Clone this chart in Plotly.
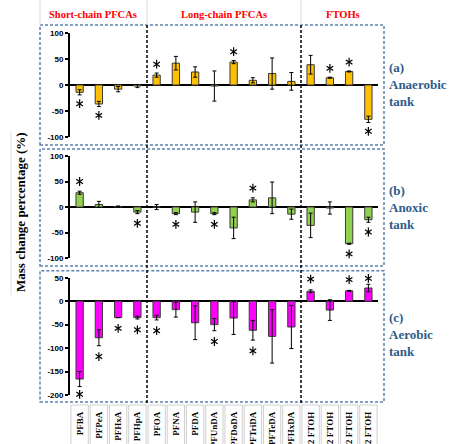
import plotly.graph_objects as go

categories = ["PFBA", "PFPeA", "PFHxA", "PFHpA", "PFOA", "PFNA", "PFDA", "PFUnDA",
              "PFDoDA", "PFTriDA", "PFTeDA", "PFHxDA",
              "4:2 FTOH", "6:2 FTOH", "8:2 FTOH", "10:2 FTOH"]

anaerobic = [-14, -36.5, -8, -2, 19, 42, 25, -2, 44, 9, 22, 7, 39, 14, 26, -66]
anaerobic_err = [5, 5, 5, 3, 4, 13, 10, 29, 3, 5, 30, 17, 18, 1, 1, 6]
anaerobic_sig = [1, 1, 0, 0, 1, 0, 0, 0, 1, 0, 0, 0, 0, 1, 1, 1]

anoxic = [28, 5, 1, -10, 0, -13, -10, -13, -41, 14, 18, -14, -36, -2, -72, -25]
anoxic_err = [3, 6, 1, 3, 5, 2, 20, 2, 21, 4, 31, 10, 24, 12, 1, 5]
anoxic_sig = [1, 0, 0, 1, 0, 1, 0, 1, 0, 1, 0, 0, 0, 0, 1, 1]

aerobic = [-166, -78, -35, -35, -35, -18, -46, -50, -36, -62, -75, -55, 21, -19, 22, 28]
aerobic_err = [16, 17, 0, 3, 5, 16, 36, 13, 35, 21, 57, 46, 3, 22, 1, 8]
aerobic_sig = [1, 1, 1, 1, 1, 0, 0, 1, 0, 1, 0, 0, 1, 0, 1, 1]

group_titles = ["Short-chain PFCAs", "Long-chain PFCAs", "FTOHs"]
panel_labels = ["(a)<br>Anaerobic<br>tank", "(b)<br>Anoxic<br>tank", "(c)<br>Aerobic<br>tank"]
y_title = "Mass change percentage (%)"

ticks_ab = [-100, -50, 0, 50, 100]
ticks_c = [-200, -150, -100, -50, 0, 50]

panels = [
    (anaerobic, anaerobic_err, anaerobic_sig, "#FFC000", ticks_ab, 17),
    (anoxic, anoxic_err, anoxic_sig, "#92D050", ticks_ab, 19),
    (aerobic, aerobic_err, aerobic_sig, "#FF00FF", ticks_c, 23),
]

# plot area: x 70..378 px, y 0..395 px
W, H = 451, 444
L, R, T, B = 70, 73, 0, 49
PW, PH = W - L - R, H - T - B


def px(xp):
    return (xp - L) / PW


def py(yp):
    return (PH - yp) / PH


domains = [[py(137), py(33)], [py(258), py(156)], [py(395), py(277.7)]]

fig = go.Figure()
serif = "Liberation Serif"
sans = "Liberation Sans"

for k, (vals, errs, sig, color, ticks, pad) in enumerate(panels):
    xa = "x" if k == 0 else f"x{k+1}"
    ya = "y" if k == 0 else f"y{k+1}"
    lo, hi = ticks[0], ticks[-1]
    fig.add_trace(go.Bar(
        x=categories, y=vals, xaxis=xa, yaxis=ya, width=0.38,
        marker=dict(color=color, line=dict(color="#3a3a3a", width=1)),
        error_y=dict(type="data", array=errs, color="black", thickness=1, width=2),
        showlegend=False,
    ))
    sx, sy = [], []
    for c, v, e, s in zip(categories, vals, errs, sig):
        if s:
            sign = 1 if v >= 0 else -1
            sx.append(c)
            sy.append(min(max(v + sign * (e + pad), lo + 1.5), hi - 1.5))
    for sym in ["y-up-open", "y-down-open"]:
        fig.add_trace(go.Scatter(
            x=sx, y=sy, xaxis=xa, yaxis=ya, mode="markers",
            marker=dict(symbol=sym, size=5.5, color="black",
                        line=dict(color="black", width=1.2)),
            cliponaxis=False, showlegend=False, hoverinfo="skip",
        ))
    axkey = "xaxis" if k == 0 else f"xaxis{k+1}"
    aykey = "yaxis" if k == 0 else f"yaxis{k+1}"
    fig.layout[axkey] = dict(
        domain=[0, 1], anchor=ya, range=[-0.5, len(categories) - 0.5],
        showline=False, showgrid=False, zeroline=False, automargin=False,
        showticklabels=(k == 2), ticks="", tickangle=-90,
        tickfont=dict(family=serif, size=9, color="black", weight="bold"),
        ticklabelstandoff=14, categoryorder="array", categoryarray=categories,
    )
    fig.layout[aykey] = dict(
        domain=domains[k], anchor=xa, range=[lo, hi],
        showline=True, linecolor="black", linewidth=2, mirror=False, automargin=False,
        showgrid=False, zeroline=True, zerolinecolor="black", zerolinewidth=1.5,
        ticks="outside", ticklen=3, tickwidth=1.5, tickcolor="black",
        tickvals=ticks, ticktext=[str(t) for t in ticks],
        tickfont=dict(family=sans, size=8, color="black", weight="bold"),
    )

shapes = []
box_color = "#5A82B0"
for (top, bot) in [(25, 145), (149, 266), (270.7, 402)]:
    shapes.append(dict(type="rect", xref="paper", yref="paper",
                       x0=px(40), x1=px(384), y0=py(bot), y1=py(top),
                       line=dict(color=box_color, width=1.5, dash="3px,2px")))
for xv in [3.5, 11.5]:
    shapes.append(dict(type="line", xref="x3", yref="paper", x0=xv, x1=xv,
                       y0=py(403), y1=py(25),
                       line=dict(color="black", width=1.5, dash="3px,2px")))
for xp in [40, 147, 301]:
    shapes.append(dict(type="line", xref="paper", yref="paper", x0=px(xp), x1=px(xp),
                       y0=py(25), y1=py(0), line=dict(color="#d9d9d9", width=1)))
for i in range(len(categories)):
    shapes.append(dict(type="rect", xref="x3", yref="paper", x0=i - 0.45, x1=i + 0.45,
                       y0=py(470), y1=py(405), line=dict(color="#cfcfcf", width=1)))
shapes.append(dict(type="line", xref="paper", yref="paper", x0=px(11), x1=px(11),
                   y0=py(295), y1=py(131), line=dict(color="#e0e0e0", width=1)))

annotations = []
for title, xc in zip(group_titles, [93, 224, 343]):
    annotations.append(dict(text=title, xref="paper", yref="paper", x=px(xc), y=py(15),
                            showarrow=False, xanchor="center", yanchor="middle",
                            font=dict(family=serif, size=10.5, color="#FF0000", weight="bold")))
for lab, yc in zip(panel_labels, [84, 208, 334]):
    annotations.append(dict(text=lab, xref="paper", yref="paper", x=px(387), y=py(yc),
                            showarrow=False, xanchor="left", yanchor="middle", align="left",
                            font=dict(family=serif, size=13, color="#2E5C8A", weight="bold")))
annotations.append(dict(text=y_title, xref="paper", yref="paper", x=px(20), y=py(212),
                        showarrow=False, textangle=-90, xanchor="center", yanchor="middle",
                        font=dict(family=serif, size=13, color="black", weight="bold")))

fig.update_layout(
    width=W, height=H, margin=dict(l=L, r=R, t=T, b=B),
    paper_bgcolor="white", plot_bgcolor="white",
    shapes=shapes, annotations=annotations, barmode="group", showlegend=False,
)

fig.write_html("out.html", config={"displayModeBar": False},
               post_script="document.body.style.margin='0';")
